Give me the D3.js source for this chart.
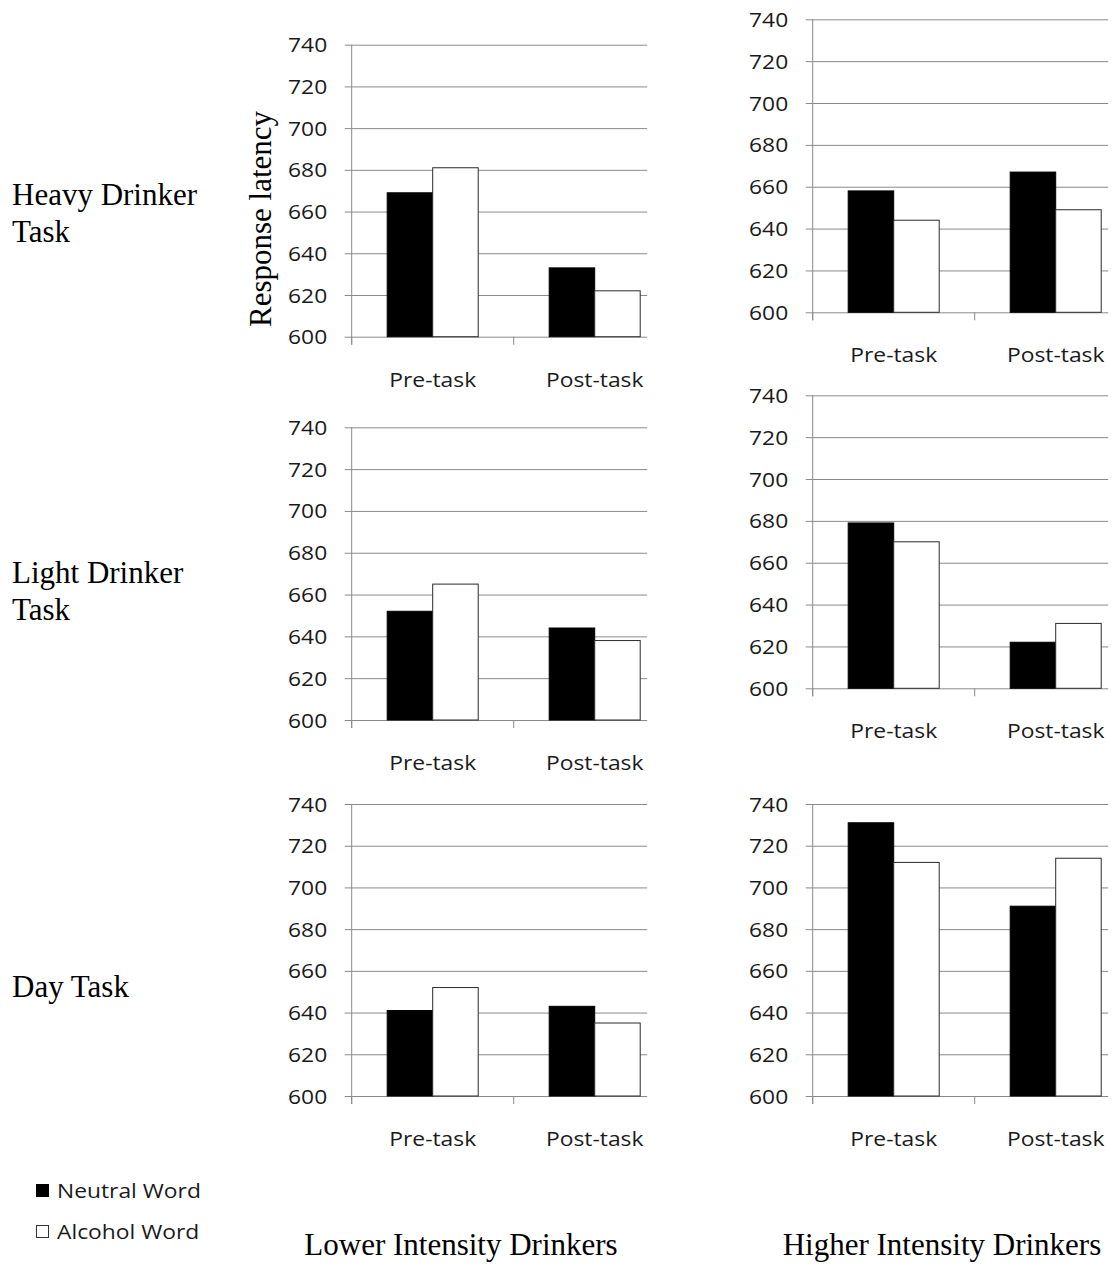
<!DOCTYPE html>
<html>
<head>
<meta charset="utf-8">
<script src="https://cdn.jsdelivr.net/npm/d3@7"></script>
<style>
  html, body { margin: 0; padding: 0; background: #fff; }
  svg { display: block; }
</style>
</head>
<body>
<svg id="chart" width="1113" height="1271"></svg>
<script>
// Mean response latency (ms) for neutral vs alcohol words, before and after each task
const categories = ["Pre-task", "Post-task"];
const seriesNames = ["Neutral Word", "Alcohol Word"];
const yTicks = [600, 620, 640, 660, 680, 700, 720, 740];

const heavyLower  = { neutral: [669, 633], alcohol: [681, 622] };
const heavyHigher = { neutral: [658, 667], alcohol: [644, 649] };
const lightLower  = { neutral: [652, 644], alcohol: [665, 638] };
const lightHigher = { neutral: [679, 622], alcohol: [670, 631] };
const dayLower    = { neutral: [641, 643], alcohol: [652, 635] };
const dayHigher   = { neutral: [731, 691], alcohol: [712, 714] };

const rowLabels = [["Heavy Drinker", "Task"], ["Light Drinker", "Task"], ["Day Task"]];
const columnTitles = ["Lower Intensity Drinkers", "Higher Intensity Drinkers"];
const yAxisTitle = "Response latency";

const SANS = "'Open Sans', sans-serif";
const SERIF = "'Liberation Serif', 'Times New Roman', serif";
const SX = 1.17;          // horizontal stretch of the sans labels
const GRID = "#8a8a8a";

const svg = d3.select("#chart");

// panel frames: left edge of the value axis, top (740) and bottom (600) of the plot
const panels = [
  { data: heavyLower,  x: 351.7, top: 44.7,  bottom: 336.7 },
  { data: heavyHigher, x: 812.7, top: 19.3,  bottom: 312.3 },
  { data: lightLower,  x: 351.7, top: 427.3, bottom: 720 },
  { data: lightHigher, x: 812.7, top: 395.3, bottom: 688.3 },
  { data: dayLower,    x: 351.7, top: 804,   bottom: 1096 },
  { data: dayHigher,   x: 812.7, top: 804,   bottom: 1096 }
];

const BAND = 162;       // width of one category slot
const VISIBLE = 295.5;  // plot width shown to the right of the axis

function stretchText(sel, dx, dy) {
  sel.attr("x", null).attr("y", null)
     .attr("transform", `translate(${dx},${dy}) scale(${SX},1)`);
}

panels.forEach(p => {
  const g = svg.append("g").attr("transform", `translate(${p.x},0)`);

  const y = d3.scaleLinear().domain([600, 740]).range([p.bottom, p.top]);
  const x0 = d3.scaleBand().domain(categories).range([0, BAND * categories.length]).padding(0);
  const x1 = d3.scaleBand().domain(seriesNames).range([0, x0.bandwidth()])
               .paddingInner(0).paddingOuter(0.78);

  // gridlines + outward ticks + value labels
  const yAxis = d3.axisLeft(y).tickValues(yTicks).tickSize(-VISIBLE).tickPadding(0)
                  .tickFormat(d3.format("d"));
  const ga = g.append("g").call(yAxis);
  ga.select(".domain").remove();
  ga.selectAll(".tick line").attr("x1", -7).attr("stroke", GRID).attr("stroke-width", 1);
  ga.selectAll(".tick text")
    .attr("font-family", SANS).attr("font-size", 19.5).attr("fill", "#1a1a1a")
    .attr("dy", "0.36em")
    .each(function () { stretchText(d3.select(this), -24.5, 0); });

  // vertical axis line
  g.append("line")
    .attr("x1", 0).attr("x2", 0)
    .attr("y1", y(740)).attr("y2", y(600) + 8)
    .attr("stroke", GRID).attr("stroke-width", 1);

  // category separators below the baseline
  g.selectAll(".cat-tick").data(categories).enter().append("line")
    .attr("class", "cat-tick")
    .attr("x1", d => x0(d)).attr("x2", d => x0(d))
    .attr("y1", y(600)).attr("y2", y(600) + 8)
    .attr("stroke", GRID).attr("stroke-width", 1);

  // bars
  const groups = g.selectAll(".cat").data(categories).enter().append("g")
    .attr("transform", d => `translate(${x0(d)},0)`);
  groups.each(function (cat, ci) {
    const vals = [
      { s: seriesNames[0], v: p.data.neutral[ci] },
      { s: seriesNames[1], v: p.data.alcohol[ci] }
    ];
    d3.select(this).selectAll("rect").data(vals).enter().append("rect")
      .attr("x", d => x1(d.s))
      .attr("y", d => y(d.v))
      .attr("width", x1.bandwidth())
      .attr("height", d => y(600) - y(d.v))
      .attr("fill", d => d.s === seriesNames[0] ? "#000" : "#fff")
      .attr("stroke", d => d.s === seriesNames[0] ? "#000" : "#2a2a2a")
      .attr("stroke-width", 1);
  });

  // category labels
  g.selectAll(".cat-label").data(categories).enter().append("text")
    .attr("class", "cat-label")
    .attr("font-family", SANS).attr("font-size", 19.5).attr("fill", "#1a1a1a")
    .attr("text-anchor", "middle")
    .text(d => d)
    .each(function (d) { stretchText(d3.select(this), x0(d) + x0.bandwidth() / 2, y(600) + 50); });
});

// row labels
const rowBaselines = [205, 583, 997];
rowLabels.forEach((lines, i) => {
  const t = svg.append("text")
    .attr("font-family", SERIF).attr("font-size", 31).attr("fill", "#000");
  lines.forEach((ln, j) => {
    t.append("tspan").attr("x", 12).attr("y", rowBaselines[i] + j * 36.7).text(ln);
  });
});

// value axis title
svg.append("text")
  .attr("font-family", SERIF).attr("font-size", 31).attr("fill", "#000")
  .attr("text-anchor", "middle")
  .attr("transform", "translate(271,219) rotate(-90)")
  .text(yAxisTitle);

// column titles
const titleCenters = [461, 942];
columnTitles.forEach((t, i) => {
  svg.append("text")
    .attr("font-family", SERIF).attr("font-size", 31).attr("fill", "#000")
    .attr("text-anchor", "middle")
    .attr("x", titleCenters[i]).attr("y", 1255)
    .text(t);
});

// legend
const legendRows = [1198, 1239];
seriesNames.forEach((name, i) => {
  const by = legendRows[i];
  svg.append("rect")
    .attr("x", 36.5).attr("y", by - 13.5).attr("width", 12).attr("height", 12)
    .attr("fill", i === 0 ? "#000" : "#fff")
    .attr("stroke", i === 0 ? "#000" : "#333").attr("stroke-width", 1);
  const t = svg.append("text")
    .attr("font-family", SANS).attr("font-size", 19.5).attr("fill", "#1a1a1a")
    .text(name);
  stretchText(t, 57, by);
});
</script>
</body>
</html>
